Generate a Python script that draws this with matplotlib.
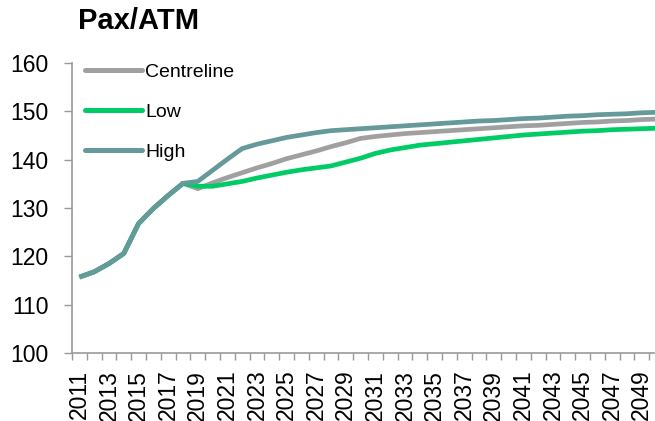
import matplotlib
matplotlib.use("Agg")
import matplotlib.pyplot as plt
import numpy as np

plt.rcParams['font.family'] = ['Liberation Sans', 'DejaVu Sans']

years = list(range(2011, 2051))
common = [115.7, 116.8, 118.5, 120.6, 126.8, 129.9, 132.6, 135.1]
centreline = common + [134.0, 135.2, 136.3, 137.3, 138.3, 139.2, 140.2, 141.0, 141.8, 142.7,
                       143.5, 144.4, 144.8, 145.1, 145.4, 145.6, 145.8, 146.0, 146.2, 146.4,
                       146.6, 146.8, 147.0, 147.1, 147.3, 147.5, 147.7, 147.8, 148.0, 148.1,
                       148.3, 148.4]
low = common + [134.5, 134.5, 135.0, 135.5, 136.2, 136.8, 137.4, 137.9, 138.3, 138.7,
                139.5, 140.3, 141.3, 142.0, 142.5, 143.0, 143.3, 143.6, 143.9, 144.2,
                144.5, 144.8, 145.1, 145.3, 145.5, 145.7, 145.9, 146.0, 146.2, 146.3,
                146.4, 146.5]
high = common + [135.5, 137.8, 140.1, 142.3, 143.2, 143.9, 144.6, 145.1, 145.6, 146.0,
                 146.2, 146.4, 146.6, 146.8, 147.0, 147.2, 147.4, 147.6, 147.8, 148.0,
                 148.1, 148.3, 148.5, 148.6, 148.8, 149.0, 149.1, 149.3, 149.4, 149.5,
                 149.7, 149.8]
series_names = ["Centreline", "Low", "High"]
colors = ["#A0A0A0", "#00CC66", "#669999"]

W, H = 655, 421
fig = plt.figure(figsize=(W / 100, H / 100), dpi=100)
left, right, top, bottom = 72, 664, 63, 353
ax = fig.add_axes([left / W, 1 - bottom / H, (right - left) / W, (bottom - top) / H])

x = np.arange(len(years))
lines = []
for name, vals, c in zip(series_names, [centreline, low, high], colors):
    ln, = ax.plot(x, vals, color=c, lw=3.4, solid_joinstyle='round',
                  solid_capstyle='butt', label=name)
    lines.append(ln)

ax.set_xlim(-0.5, len(years) - 0.5)
ax.set_ylim(100, 160)
ax.set_yticks(range(100, 161, 10))
ax.tick_params(axis='y', labelsize=16.5, length=6, width=1, color='#999999', pad=11)

ax.set_xticks(x[::2])
ax.set_xticklabels([str(y) for y in years[::2]], rotation=90, fontsize=16.5)
ax.set_xticks(np.arange(-0.5, len(years), 1), minor=True)
ax.tick_params(axis='x', which='major', length=0, pad=12)
ax.tick_params(axis='x', which='minor', length=5, width=1, color='#999999')

for s in ['top', 'right']:
    ax.spines[s].set_visible(False)
for s in ['left', 'bottom']:
    ax.spines[s].set_color('#999999')
    ax.spines[s].set_linewidth(1.2)

leg = ax.legend(handles=lines, loc='upper left', bbox_to_anchor=(85 / W, 1 - 63 / H),
                bbox_transform=fig.transFigure, frameon=False, fontsize=14,
                handlelength=2.95, handletextpad=0.15, labelspacing=1.15, borderpad=0,
                borderaxespad=0)
for h in leg.legend_handles:
    h.set_solid_capstyle('round')
    h.set_linewidth(3.6)

fig.text(78 / W, 1 - 21 / H, "Pax/ATM", fontsize=21, fontweight='bold',
         va='center', ha='left')

fig.savefig("out.png", dpi=100)
